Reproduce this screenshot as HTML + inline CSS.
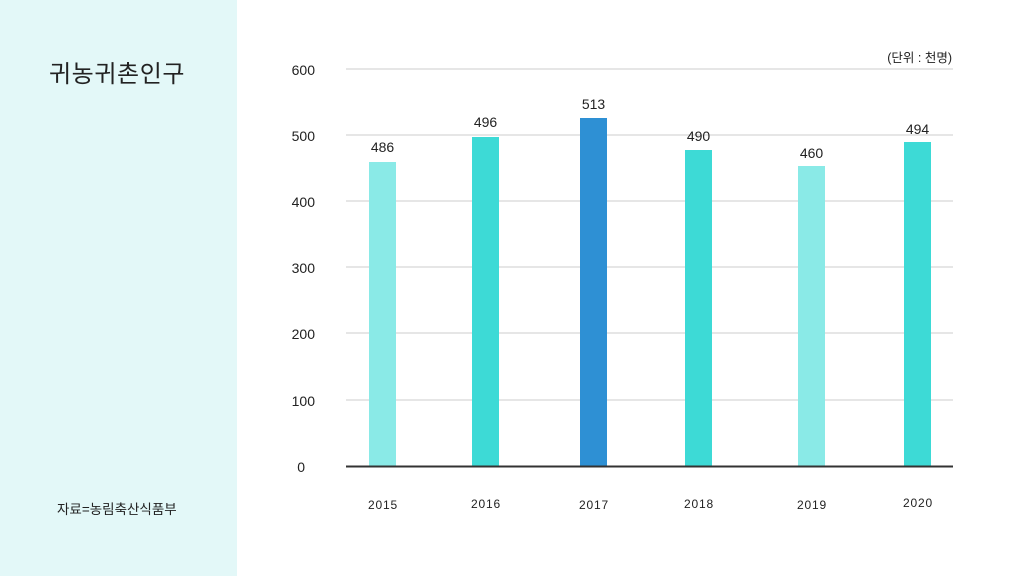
<!DOCTYPE html>
<html><head><meta charset="utf-8"><style>
html,body{margin:0;padding:0;width:1024px;height:576px;overflow:hidden;background:#fff}
svg{display:block}
</style></head><body>
<svg width="1024" height="576" xmlns="http://www.w3.org/2000/svg" font-family="Liberation Sans, 'Noto Sans CJK KR', sans-serif">
<rect x="0" y="0" width="237" height="576" fill="#e3f8f8"/>
<text x="49" y="82" font-size="24" letter-spacing="0.6" fill="#222" font-family="'Noto Sans CJK KR', sans-serif">귀농귀촌인구</text>
<text x="57" y="514" font-size="13.5" fill="#222" font-family="'Liberation Sans','Noto Sans CJK KR', sans-serif">자료=농림축산식품부</text>
<text x="952" y="62" font-size="12.5" fill="#222" text-anchor="end" font-family="'Liberation Sans','Noto Sans CJK KR', sans-serif">(단위 : 천명)</text>
<g stroke="#dedede" stroke-width="1.5">
<line x1="346" x2="953" y1="69" y2="69"/>
<line x1="346" x2="953" y1="135" y2="135"/>
<line x1="346" x2="953" y1="201" y2="201"/>
<line x1="346" x2="953" y1="267" y2="267"/>
<line x1="346" x2="953" y1="333" y2="333"/>
<line x1="346" x2="953" y1="400" y2="400"/>
</g>
<g font-size="14" fill="#222" text-anchor="end">
<text x="315" y="75">600</text>
<text x="315" y="141">500</text>
<text x="315" y="207">400</text>
<text x="315" y="273">300</text>
<text x="315" y="339">200</text>
<text x="315" y="406">100</text>
<text x="305" y="472">0</text>
</g>
<rect x="369" y="162" width="27" height="304" fill="#8aeae7"/>
<rect x="472" y="137" width="27" height="329" fill="#3ddad6"/>
<rect x="580" y="118" width="27" height="348" fill="#2e90d4"/>
<rect x="685" y="150" width="27" height="316" fill="#3ddad6"/>
<rect x="798" y="166" width="27" height="300" fill="#8aeae7"/>
<rect x="904" y="142" width="27" height="324" fill="#3ddad6"/>
<line x1="346" x2="953" y1="466.5" y2="466.5" stroke="#333" stroke-width="2"/>
<g font-size="14" fill="#222" text-anchor="middle">
<text x="382.5" y="152">486</text>
<text x="485.5" y="127">496</text>
<text x="593.5" y="109">513</text>
<text x="698.5" y="141">490</text>
<text x="811.5" y="158">460</text>
<text x="917.5" y="134">494</text>
</g>
<g font-size="12" fill="#222" text-anchor="middle" letter-spacing="0.8">
<text x="383" y="509">2015</text>
<text x="486" y="508">2016</text>
<text x="594" y="509">2017</text>
<text x="699" y="508">2018</text>
<text x="812" y="509">2019</text>
<text x="918" y="507">2020</text>
</g>
</svg>
</body></html>
